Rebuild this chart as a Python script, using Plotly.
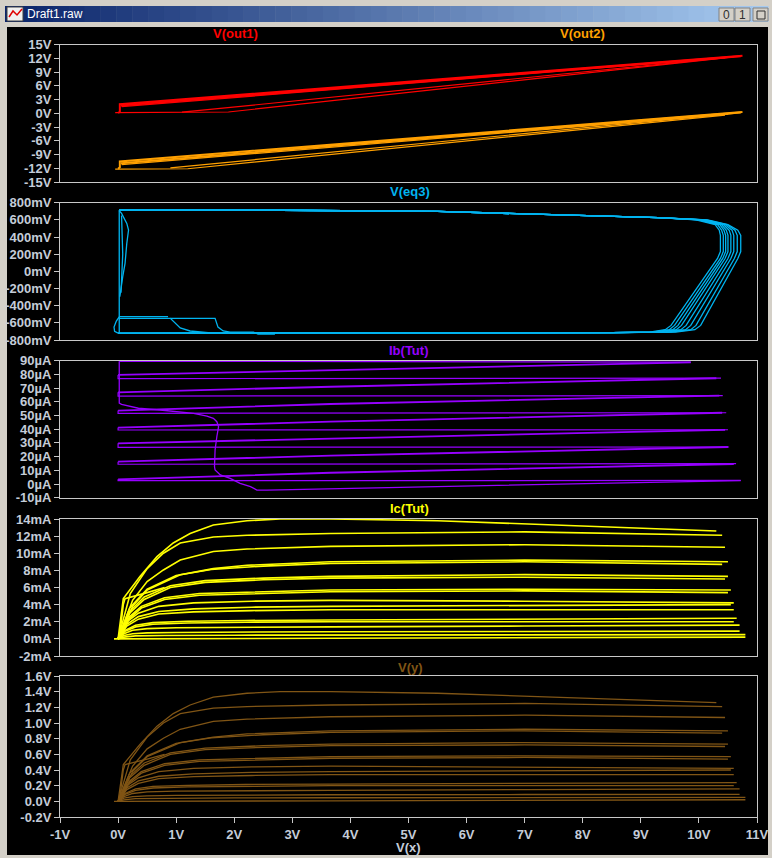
import plotly.graph_objects as go

W, H = 772, 858

# ---------------- tick labels ----------------
X_TICKS = [-1, 0, 1, 2, 3, 4, 5, 6, 7, 8, 9, 10, 11]
X_LABELS = ["-1V", "0V", "1V", "2V", "3V", "4V", "5V", "6V", "7V", "8V", "9V", "10V", "11V"]
OUT_TICKS = [-15, -12, -9, -6, -3, 0, 3, 6, 9, 12, 15]
OUT_LABELS = ["-15V", "-12V", "-9V", "-6V", "-3V", "0V", "3V", "6V", "9V", "12V", "15V"]
EQ3_TICKS = [-800, -600, -400, -200, 0, 200, 400, 600, 800]
EQ3_LABELS = ["-800mV", "-600mV", "-400mV", "-200mV", "0mV", "200mV", "400mV", "600mV", "800mV"]
IB_TICKS = [-10, 0, 10, 20, 30, 40, 50, 60, 70, 80, 90]
IB_LABELS = ["-10µA", "0µA", "10µA", "20µA", "30µA", "40µA", "50µA", "60µA", "70µA", "80µA", "90µA"]
IC_TICKS = [-2, 0, 2, 4, 6, 8, 10, 12, 14]
IC_LABELS = ["-2mA", "0mA", "2mA", "4mA", "6mA", "8mA", "10mA", "12mA", "14mA"]
# V(y) is Ic across the 100 ohm sense resistor: same curves, volt labels
VY_TICKS = [-2, 0, 2, 4, 6, 8, 10, 12, 14, 16]
VY_LABELS = ["-0.2V", "0.0V", "0.2V", "0.4V", "0.6V", "0.8V", "1.0V", "1.2V", "1.4V", "1.6V"]

# ---------------- V(out1) / V(out2) ----------------
OUT1_X = [[0.0, 0.03, 0.03, 10.75], [0.05, 10.72], [0.06, 10.5], [-0.05, 1.9, 10.45], [1.1, 10.6]]
OUT1_Y = [[0.1, 0.3, 2.0, 12.6], [1.7, 12.5], [1.45, 12.2], [0.15, 0.3, 12.1], [0.25, 12.35]]
OUT2_X = [[0.0, 0.03, 0.03, 10.75], [0.05, 10.72], [0.06, 10.5], [-0.05, 1.2, 10.45], [0.9, 10.6]]
OUT2_Y = [[-12.1, -11.8, -10.5, 0.3], [-10.9, 0.2], [-11.2, -0.2], [-12.2, -12.1, -0.4], [-11.9, 0.0]]

# ---------------- V(eq3) (mV) ----------------
EQ3_TOP_X = [0.02, 1.0, 2.8, 5.5, 8.3, 9.3]
EQ3_TOP_Y = [714, 716, 712, 698, 650, 625]
EQ3_EDGE_Y = [600, 545, 480, 420, 230, 150, -630, -680, -708]
EQ3_EDGE_X = [
    [9.95, 10.28, 10.35, 10.37, 10.37, 10.32, 9.52, 9.42, 9.15],
    [10.0, 10.32, 10.39, 10.42, 10.42, 10.37, 9.58, 9.49, 9.2],
    [10.03, 10.36, 10.43, 10.46, 10.46, 10.41, 9.64, 9.55, 9.25],
    [10.06, 10.39, 10.47, 10.5, 10.5, 10.45, 9.7, 9.61, 9.3],
    [10.08, 10.42, 10.52, 10.55, 10.55, 10.5, 9.78, 9.69, 9.37],
    [10.1, 10.45, 10.57, 10.6, 10.6, 10.55, 9.86, 9.77, 9.44],
    [10.12, 10.48, 10.62, 10.66, 10.66, 10.61, 9.95, 9.86, 9.52],
    [10.15, 10.5, 10.67, 10.72, 10.72, 10.67, 10.03, 9.93, 9.6],
]
EQ3_BOTTOM_X = [8.5, 5.0, 2.4, 0.0]
EQ3_BOTTOM_Y = [-714, -718, -722, -722]
EQ3_LEFT_X = [
    [0.02, 0.02],
    [0.02, 0.06, 0.15, 0.18, 0.15, 0.12, 0.08, 0.05, 0.03],
    [0.06, 0.08, 0.05],
    [0.02, -0.03, -0.07, -0.06, 0.0],
    [0.02, 0.86],
    [0.02, 0.9, 1.07, 1.24, 1.64, 2.0],
    [0.9, 1.67, 1.72, 1.81, 1.93, 2.33, 2.41, 2.7],
]
EQ3_LEFT_Y = [
    [714, -720],
    [706, 676, 559, 481, 326, 93, -63, -218, -296],
    [650, 200, -250],
    [-530, -580, -650, -700, -720],
    [-527, -527],
    [-548, -548, -660, -695, -720, -722],
    [-548, -548, -650, -695, -708, -708, -730, -730],
]

# ---------------- Ib(Tut) (µA) ----------------
IB_RISE_START = [79.6, 66.9, 53.6, 41.2, 29.7, 16.3, 3.4]
IB_RISE_MID = [83.2, 71.0, 58.4, 45.5, 33.4, 20.7, 8.2]     # at 3.66 V
IB_RISE_END = [88.8, 77.2, 64.5, 52.0, 39.5, 27.0, 14.6]
IB_RISE_END_X = [9.86, 10.3, 10.35, 10.4, 10.45, 10.5, 10.6]
IB_FLAT = [76.9, 64.2, 51.6, 39.4, 26.8, 14.4, 2.4]
IB_FLAT_END = [77.3, 64.5, 52.0, 39.6, 27.0, 14.8, 2.6]
IB_FLAT_END_X = [10.38, 10.41, 10.47, 10.5, 10.52, 10.64, 10.72]
IB_SWEEP_X = [0.02, 0.02, 0.06, 0.15, 0.26, 0.35, 0.72, 1.07, 1.30, 1.53, 1.64, 1.70, 1.73,
              1.70, 1.67, 1.66, 1.67, 1.76, 1.93, 2.10, 2.28, 2.39, 2.56, 10.72]
IB_SWEEP_Y = [89.6, 59.0, 58.2, 57.2, 56.4, 55.3, 54.0, 52.8, 51.6, 49.6, 47.9, 45.5, 41.8,
              34.5, 24.8, 12.6, 10.2, 6.6, 4.1, 0.5, -1.9, -4.4, -4.4, 2.5]
IB_TOP_X = [0.02, 9.86]
IB_TOP_Y = [89.6, 89.0]

# ---------------- Ic(Tut) (mA) ----------------
IC_X = [
    [0.0, 0.09, 0.38, 0.67, 0.95, 1.24, 1.64, 2.22, 2.79, 3.66, 5.5, 7.5, 10.3],
    [0.0, 0.21, 0.5, 0.78, 1.07, 1.64, 2.22, 3.66, 7.0, 10.4],
    [0.0, 0.25, 0.5, 0.78, 1.07, 1.64, 2.22, 3.66, 7.0, 10.45],
    [0.0, 0.25, 0.5, 1.07, 1.64, 2.22, 3.66, 7.0, 10.5],
    [0.0, 0.2, 0.5, 1.0, 1.6, 2.5, 3.66, 7.0, 10.4],
    [0.0, 0.2, 0.45, 0.9, 1.5, 2.5, 3.66, 7.0, 10.5],
    [0.0, 0.2, 0.45, 0.9, 1.5, 2.5, 3.66, 7.0, 10.45],
    [0.0, 0.2, 0.4, 0.8, 1.4, 2.4, 3.66, 7.0, 10.55],
    [0.0, 0.2, 0.4, 0.8, 1.4, 2.4, 3.66, 7.0, 10.5],
    [0.0, 0.15, 0.35, 0.7, 1.3, 2.3, 3.66, 7.0, 10.6],
    [0.0, 0.15, 0.35, 0.7, 1.3, 2.3, 3.66, 7.0, 10.55],
    [0.0, 0.15, 0.35, 0.7, 1.3, 2.3, 3.66, 7.0, 10.6],
    [0.0, 0.12, 0.3, 0.6, 1.2, 2.2, 3.66, 7.0, 10.65],
    [0.0, 0.12, 0.3, 0.6, 1.2, 2.2, 3.66, 7.0, 10.6],
    [0.0, 0.1, 0.25, 0.5, 1.0, 2.0, 3.66, 7.0, 10.7],
    [0.0, 0.1, 0.25, 0.5, 1.0, 2.0, 3.66, 7.0, 10.7],
    [0.0, 0.1, 0.3, 0.8, 2.0, 3.66, 7.0, 10.8],
    [-0.07, 0.0, 3.66, 10.8],
    [0.02, 0.09, 0.12, 0.3, 0.5, 0.8],
]
IC_Y = [
    [0, 4.7, 7.3, 9.6, 11.2, 12.3, 13.3, 13.8, 14.0, 14.0, 13.8, 13.3, 12.6],
    [0, 5.3, 8.2, 10.0, 11.2, 11.9, 12.1, 12.3, 12.5, 12.1],
    [0, 4.5, 6.7, 8.05, 9.2, 10.2, 10.5, 10.8, 11.0, 10.7],
    [0, 3.8, 5.7, 7.5, 8.2, 8.6, 9.0, 9.2, 9.0],
    [0, 3.6, 5.8, 7.4, 8.1, 8.5, 8.8, 9.0, 8.7],
    [0, 3.2, 4.9, 6.2, 6.8, 7.1, 7.3, 7.5, 7.3],
    [0, 3.0, 4.6, 6.0, 6.6, 6.9, 7.1, 7.2, 7.0],
    [0, 2.6, 3.8, 4.8, 5.3, 5.5, 5.7, 5.8, 5.7],
    [0, 2.4, 3.6, 4.6, 5.1, 5.3, 5.5, 5.6, 5.4],
    [0, 2.0, 3.0, 3.8, 4.2, 4.4, 4.5, 4.4, 4.2],
    [0, 1.7, 2.6, 3.2, 3.5, 3.7, 3.8, 3.9, 4.0],
    [0, 1.5, 2.3, 2.9, 3.15, 3.3, 3.4, 3.4, 3.4],
    [0, 1.0, 1.6, 1.9, 2.05, 2.15, 2.2, 2.3, 2.4],
    [0, 0.9, 1.4, 1.7, 1.85, 1.95, 2.0, 2.0, 2.0],
    [0, 0.6, 1.0, 1.2, 1.3, 1.35, 1.4, 1.5, 1.6],
    [0, 0.4, 0.6, 0.7, 0.75, 0.8, 0.84, 0.87, 0.9],
    [0, 0.2, 0.35, 0.4, 0.43, 0.46, 0.48, 0.5],
    [0, 0, 0.07, 0.2],
    [0, 4.0, 4.7, 5.0, 5.4, 6.0],
]

# ---------------- colours / fonts ----------------
RED, ORANGE, CYAN = "#ff0000", "#ffa000", "#00b4f0"
PURPLE, YELLOW, BROWN = "#9600ff", "#ffff00", "#805515"
AXIS = "#c8c8c8"
LABEL = "#c4ccd8"
TICK_FONT = dict(family="Liberation Sans, Arial", size=13, color=LABEL, weight="bold")

# pixel boxes of the five panes: (top, bottom)
PANES = [
    (44.7, 182, [-15, 15], OUT_TICKS, OUT_LABELS),
    (202.7, 340, [-800, 800], EQ3_TICKS, EQ3_LABELS),
    (360.7, 497.7, [-10, 90], IB_TICKS, IB_LABELS),
    (519, 656, [-2, 14], IC_TICKS, IC_LABELS),
    (676, 817, [-2, 16], VY_TICKS, VY_LABELS),
]

fig = go.Figure()


def add_line(x, y, color, pane, width=1.0):
    suffix = "" if pane == 1 else str(pane)
    fig.add_trace(go.Scatter(
        x=x, y=y, mode="lines",
        line=dict(color=color, width=width),
        xaxis="x" + suffix, yaxis="y" + suffix,
        showlegend=False, hoverinfo="skip"
    ))


# V(out1), V(out2)
for i, (x, y) in enumerate(zip(OUT1_X, OUT1_Y)):
    add_line(x, y, RED, 1, 2 if i < 2 else 1.2)
for i, (x, y) in enumerate(zip(OUT2_X, OUT2_Y)):
    add_line(x, y, ORANGE, 1, 2 if i < 2 else 1.2)

# V(eq3): loops share top and bottom, differ at the right edge
for ex in EQ3_EDGE_X:
    add_line(EQ3_TOP_X + ex + EQ3_BOTTOM_X, EQ3_TOP_Y + EQ3_EDGE_Y + EQ3_BOTTOM_Y, CYAN, 2, 1.3)
for x, y in zip(EQ3_LEFT_X, EQ3_LEFT_Y):
    add_line(x, y, CYAN, 2, 1.3)

# Ib(Tut): each base step is a rising line and a flat return line
for k in range(len(IB_RISE_START)):
    add_line([IB_RISE_END_X[k], 3.66, 0.0], [IB_RISE_END[k], IB_RISE_MID[k], IB_RISE_START[k]],
             PURPLE, 3, 1.8)
    add_line([0.0, 0.0, IB_FLAT_END_X[k]], [IB_RISE_START[k], IB_FLAT[k], IB_FLAT_END[k]],
             PURPLE, 3, 1.2)
add_line(IB_SWEEP_X, IB_SWEEP_Y, PURPLE, 3, 1.3)
add_line(IB_TOP_X, IB_TOP_Y, PURPLE, 3, 1.3)

# Ic(Tut) and V(y)
for x, y in zip(IC_X, IC_Y):
    add_line(x, y, YELLOW, 4, 1.6)
for x, y in zip(IC_X, IC_Y):
    add_line(x, y, BROWN, 5, 1.3)

# ---------------- axes ----------------
for i, (top, bot, rng, tv, tt) in enumerate(PANES, start=1):
    suffix = "" if i == 1 else str(i)
    last = i == len(PANES)
    fig.update_layout(**{
        "xaxis" + suffix: dict(
            domain=[60 / W, 757 / W], range=[-1, 11], anchor="y" + suffix,
            showline=True, mirror=True, linecolor=AXIS, linewidth=1,
            showgrid=False, zeroline=False, automargin=False,
            tickvals=X_TICKS, ticktext=X_LABELS, showticklabels=last,
            ticks="outside" if last else "", ticklen=5, tickcolor=AXIS,
            tickfont=TICK_FONT, fixedrange=True
        ),
        "yaxis" + suffix: dict(
            domain=[1 - bot / H, 1 - top / H], range=rng, anchor="x" + suffix,
            showline=True, mirror=True, linecolor=AXIS, linewidth=1,
            showgrid=False, zeroline=False, automargin=False,
            tickvals=tv, ticktext=tt, ticks="outside", ticklen=5, tickcolor=AXIS,
            tickfont=TICK_FONT, fixedrange=True
        ),
    })

# ---------------- window chrome ----------------
shapes = []


def rect(x0, y0, x1, y1, fill, line_color=None):
    shapes.append(dict(
        type="rect", xref="paper", yref="paper", layer="below",
        x0=x0 / W, x1=x1 / W, y0=1 - y1 / H, y1=1 - y0 / H,
        fillcolor=fill,
        line=dict(width=1 if line_color else 0, color=line_color or fill)
    ))


rect(7, 27, 768, 855, "black")
# title bar gradient (dark to light blue)
steps = 48
c0, c1 = (10, 36, 106), (166, 202, 240)
for s in range(steps):
    t = s / (steps - 1)
    col = "rgb(%d,%d,%d)" % tuple(round(a + (b - a) * t) for a, b in zip(c0, c1))
    xa = 5 + (768 - 5) * s / steps
    xb = 5 + (768 - 5) * (s + 1) / steps + 0.5
    rect(xa, 6, xb, 22, col)
# icon
rect(7, 7, 23, 21, "#f0f0f0", "#404040")
shapes.append(dict(type="path", xref="paper", yref="paper",
                   path="M %f,%f L %f,%f L %f,%f L %f,%f" % (
                       9 / W, 1 - 17 / H, 13 / W, 1 - 11 / H, 17 / W, 1 - 15 / H, 22 / W, 1 - 9 / H),
                   line=dict(color="#e00000", width=1.5)))
# buttons
for bx in (719, 735, 753):
    rect(bx, 8, bx + 15, 21, "#d4d0c8", "#808080")
rect(757, 11, 765, 19, "#d4d0c8", "#303030")

annotations = [
    dict(text="Draft1.raw", x=25 / W, y=1 - 14 / H, xanchor="left", yanchor="middle",
         font=dict(family="Liberation Sans, Arial", size=12, color="white")),
    dict(text="0", x=726.5 / W, y=1 - 14.5 / H, xanchor="center", yanchor="middle",
         font=dict(family="Liberation Sans, Arial", size=12, color="#303030")),
    dict(text="1", x=742.5 / W, y=1 - 14.5 / H, xanchor="center", yanchor="middle",
         font=dict(family="Liberation Sans, Arial", size=12, color="#303030")),
    dict(text="V(x)", x=408 / W, y=1 - 847 / H, xanchor="center", yanchor="middle",
         font=TICK_FONT),
]
names = [("V(out1)", 235, 34, RED), ("V(out2)", 582, 34, ORANGE), ("V(eq3)", 410, 192, CYAN),
         ("Ib(Tut)", 408, 350, PURPLE), ("Ic(Tut)", 409, 508, YELLOW), ("V(y)", 410, 667, BROWN)]
for text, px, py, col in names:
    annotations.append(dict(
        text=text, x=px / W, y=1 - py / H, xanchor="center", yanchor="middle",
        font=dict(family="Liberation Sans, Arial", size=13, color=col, weight="bold")
    ))
for a in annotations:
    a.update(xref="paper", yref="paper", showarrow=False)

fig.update_layout(
    width=W, height=H,
    margin=dict(l=0, r=0, t=0, b=0, autoexpand=False),
    paper_bgcolor="#d4d0c8",
    plot_bgcolor="black",
    shapes=shapes,
    annotations=annotations,
)

# the page is exactly the window size: drop the default body margin
fig.write_html("out.html", config={"displayModeBar": False},
               post_script="document.body.style.margin='0';document.body.style.overflow='hidden';")
